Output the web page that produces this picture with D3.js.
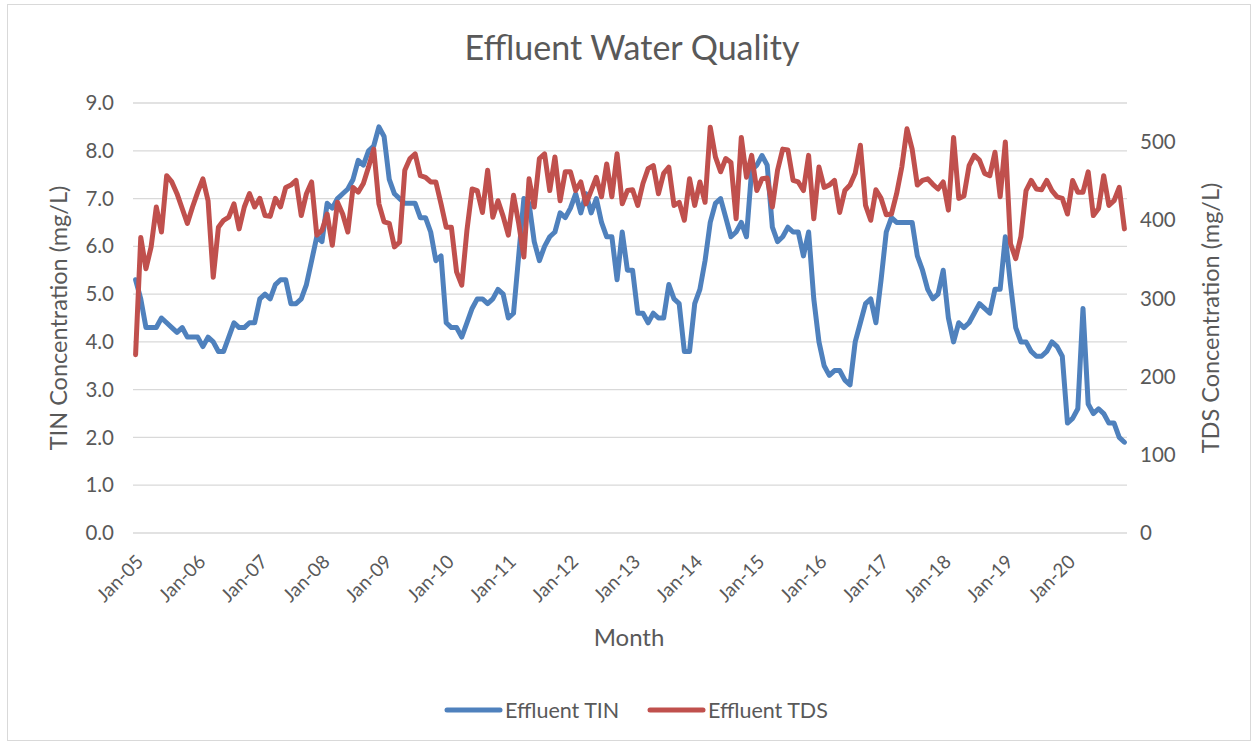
<!DOCTYPE html>
<html>
<head>
<meta charset="utf-8">
<script src="https://cdn.jsdelivr.net/npm/d3@7"></script>
<style>
  body { margin: 0; background: #fff; }
  svg { display: block; font-family: Lato, "Open Sans", sans-serif; }
</style>
</head>
<body>
<svg width="1258" height="745"></svg>
<script>
//data, one value per month from Jan-05 to Dec-20
const years = d3.range(2005, 2021);
const monthNames = ['Jan','Feb','Mar','Apr','May','Jun','Jul','Aug','Sep','Oct','Nov','Dec'];
const months = years.flatMap(y => monthNames.map(m => m + '-' + String(y).slice(2)));

const tin = [
  5.3,4.9,4.3,4.3,4.3,4.5,4.4,4.3,4.2,4.3,4.1,4.1,
  4.1,3.9,4.1,4.0,3.8,3.8,4.1,4.4,4.3,4.3,4.4,4.4,
  4.9,5.0,4.9,5.2,5.3,5.3,4.8,4.8,4.9,5.2,5.7,6.2,
  6.1,6.9,6.8,7.0,7.1,7.2,7.4,7.8,7.7,8.0,8.1,8.5,
  8.3,7.4,7.1,7.0,6.9,6.9,6.9,6.6,6.6,6.3,5.7,5.8,
  4.4,4.3,4.3,4.1,4.4,4.7,4.9,4.9,4.8,4.9,5.1,5.0,
  4.5,4.6,5.8,7.0,6.9,6.1,5.7,6.0,6.2,6.3,6.7,6.6,
  6.8,7.1,6.7,7.1,6.7,7.0,6.5,6.2,6.2,5.3,6.3,5.5,
  5.5,4.6,4.6,4.4,4.6,4.5,4.5,5.2,4.9,4.8,3.8,3.8,
  4.8,5.1,5.7,6.5,6.9,7.0,6.6,6.2,6.3,6.5,6.2,7.6,
  7.7,7.9,7.7,6.4,6.1,6.2,6.4,6.3,6.3,5.8,6.3,4.9,
  4.0,3.5,3.3,3.4,3.4,3.2,3.1,4.0,4.4,4.8,4.9,4.4,
  5.3,6.3,6.6,6.5,6.5,6.5,6.5,5.8,5.5,5.1,4.9,5.0,
  5.5,4.5,4.0,4.4,4.3,4.4,4.6,4.8,4.7,4.6,5.1,5.1,
  6.2,5.2,4.3,4.0,4.0,3.8,3.7,3.7,3.8,4.0,3.9,3.7,
  2.3,2.4,2.6,4.7,2.7,2.5,2.6,2.5,2.3,2.3,2.0,1.9
];

const tds = [
  228,378,338,366,417,385,457,449,434,415,396,417,
  436,453,425,327,391,400,404,421,389,417,434,417,
  428,406,405,428,417,442,445,451,406,434,449,381,
  387,408,368,423,408,385,442,436,447,468,491,421,
  398,396,366,372,464,479,485,457,455,449,449,421,
  391,391,334,317,387,440,438,410,464,404,425,405,
  381,432,396,353,453,417,479,485,438,481,425,462,
  462,438,449,421,438,455,430,472,430,485,421,438,
  439,419,447,466,470,434,460,468,419,423,400,453,
  419,449,423,519,481,462,479,474,402,506,455,483,
  438,453,454,417,464,491,490,451,449,438,483,402,
  468,442,445,451,410,438,445,460,496,419,400,439,
  428,407,408,434,468,517,491,445,451,453,446,440,
  449,413,506,428,431,470,483,477,460,457,487,430,
  500,370,351,379,438,451,440,439,451,438,430,428,
  408,451,436,436,462,406,415,457,419,425,442,389
];

const tinTicks = d3.range(0, 9.01, 1);
const tdsTicks = d3.range(0, 501, 100);

const series = [
  {name: 'Effluent TIN', values: tin, color: '#4f81bd', axis: 'left'},
  {name: 'Effluent TDS', values: tds, color: '#c0504d', axis: 'right'}
];

//layout
const plot = {left: 133, right: 1127, top: 103, bottom: 533};
const textColor = '#595959';
const gridColor = '#d9d9d9';

const svg = d3.select('svg');

//chart border
svg.append('rect')
  .attr('x', 7.5).attr('y', 4.5)
  .attr('width', 1243).attr('height', 736)
  .attr('fill', 'none')
  .attr('stroke', gridColor);

//scales
const x = d3.scaleBand().domain(months).range([plot.left, plot.right]).padding(0);
const cx = d => x(d) + x.bandwidth() / 2;
const yL = d3.scaleLinear().domain([0, 9]).range([plot.bottom, plot.top]);
const yR = d3.scaleLinear().domain([0, 550]).range([plot.bottom, plot.top]);

//grid
svg.append('g')
  .selectAll('line')
  .data(tinTicks)
  .join('line')
  .attr('x1', plot.left).attr('x2', plot.right)
  .attr('y1', d => yL(d)).attr('y2', d => yL(d))
  .attr('stroke', gridColor)
  .attr('stroke-width', 1.3);

//left axis
const leftAxis = svg.append('g')
  .attr('transform', `translate(${plot.left - 9},0)`)
  .call(d3.axisLeft(yL).tickValues(tinTicks).tickFormat(d3.format('.1f')).tickSize(0).tickPadding(10));
leftAxis.select('.domain').remove();
leftAxis.selectAll('text').attr('fill', textColor).style('font-size', '20.5px').style('font-family', 'Lato');

//right axis
const rightAxis = svg.append('g')
  .attr('transform', `translate(${plot.right + 3},0)`)
  .call(d3.axisRight(yR).tickValues(tdsTicks).tickSize(0).tickPadding(10));
rightAxis.select('.domain').remove();
rightAxis.selectAll('text').attr('fill', textColor).style('font-size', '20.5px').style('font-family', 'Lato');

//bottom axis, one label per january
const bottomAxis = svg.append('g')
  .attr('transform', `translate(0,${plot.bottom})`)
  .call(d3.axisBottom(x).tickValues(months.filter((m, i) => i % 12 === 0)).tickSize(0).tickPadding(0));
bottomAxis.select('.domain').remove();
bottomAxis.selectAll('text')
  .attr('fill', textColor)
  .style('font-size', '19px')
  .style('font-family', 'Lato')
  .attr('text-anchor', 'end')
  .attr('dy', 0)
  .attr('y', 0)
  .attr('transform', 'translate(9,30) rotate(-45)');

//lines
const line = s => d3.line()
  .x((d, i) => cx(months[i]))
  .y(d => (s.axis === 'left' ? yL : yR)(d));

svg.append('g')
  .selectAll('path')
  .data(series)
  .join('path')
  .attr('d', s => line(s)(s.values))
  .attr('fill', 'none')
  .attr('stroke', s => s.color)
  .attr('stroke-width', 5)
  .attr('stroke-linejoin', 'round')
  .attr('stroke-linecap', 'round');

//titles
svg.append('text')
  .attr('x', 632).attr('y', 60)
  .attr('text-anchor', 'middle')
  .attr('fill', textColor)
  .style('font-size', '34px')
  .text('Effluent Water Quality');

svg.append('text')
  .attr('transform', `translate(67,${(plot.top + plot.bottom) / 2}) rotate(-90)`)
  .attr('text-anchor', 'middle')
  .attr('fill', textColor)
  .style('font-size', '23.5px')
  .text('TIN Concentration (mg/L)');

svg.append('text')
  .attr('transform', `translate(1219,${(plot.top + plot.bottom) / 2}) rotate(-90)`)
  .attr('text-anchor', 'middle')
  .attr('fill', textColor)
  .style('font-size', '23.5px')
  .text('TDS Concentration (mg/L)');

svg.append('text')
  .attr('x', 629).attr('y', 646)
  .attr('text-anchor', 'middle')
  .attr('fill', textColor)
  .style('font-size', '24px')
  .text('Month');

//legend
const legend = svg.append('g')
  .selectAll('g')
  .data(series)
  .join('g')
  .attr('transform', (d, i) => `translate(${i === 0 ? 447 : 650},710)`);

legend.append('line')
  .attr('x1', 0).attr('x2', 53)
  .attr('stroke', d => d.color)
  .attr('stroke-width', 5)
  .attr('stroke-linecap', 'round');

legend.append('text')
  .attr('x', 58).attr('dy', '0.35em')
  .attr('fill', textColor)
  .style('font-size', '21.5px')
  .text(d => d.name);
</script>
</body>
</html>
